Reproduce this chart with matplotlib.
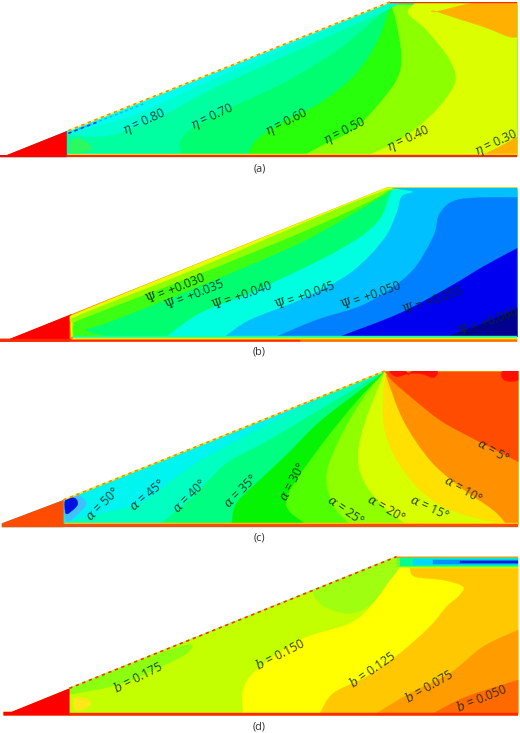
import matplotlib
matplotlib.use("Agg")
import matplotlib.pyplot as plt
from matplotlib.patches import Polygon, PathPatch
from matplotlib.path import Path

plt.rcParams['font.family'] = ['Open Sans', 'DejaVu Sans']
plt.rcParams['mathtext.fontset'] = 'dejavuserif'

W, H = 520, 733
S = 3.0  # reading scale of the boundaries (zoomed pixels)

# ---------- panel (a): eta ----------
a_dom = [(0,472),(0,465),(20,465),(200,393),(1170,6),(1552,6),(1552,472)]
a_wedge = [(0,472),(0,465),(20,465),(200,393),(200,472)]
a_base = '#00ffa0'
a_bands = [
 ('#00ff70', [(545,468),(540,430),(570,390),(700,320),(850,250),(1000,160),(1100,80),(1170,15)]),
 ('#28ff0a', [(745,468),(770,420),(860,360),(960,310),(1060,230),(1130,130),(1172,15)]),
 ('#8cff00', [(910,468),(960,440),(1060,390),(1130,320),(1190,240),(1205,170),(1190,70),(1175,15)]),
 ('#dcff00', [(1100,468),(1200,420),(1300,340),(1365,250),(1350,180),(1280,90),(1225,40),(1245,10)]),
 ('#ffb000', [(1440,468),(1500,440),(1552,410)]),
]
a_patches = [
 ('#00ffd0', [(205,405),(330,405),(480,350),(630,270),(850,170),(1060,75),(1160,30),(1170,8),(205,392)]),
 ('#00ffee', [(230,392),(400,345),(600,255),(800,168),(1040,62),(1130,22),(205,392)]),
 ('#2cf860', [(212,456),(212,425),(235,415),(262,430),(276,445),(250,456)]),
 ('#ffb000', [(1310,35),(1430,8),(1552,8),(1552,110),(1450,80),(1310,35)]),
]
a_stripes = [('#e8ff20', 462, 466, 205), ('#ff2800', 466, 472, 200), ('#ff2800', 3, 8, 1170)]
a_slope = [(205,392),(1170,6)]
a_speck = [(205,400),(430,312)]
a_speck_dark = [(205,400),(290,367)]
a_labels = ['$\\eta$ = 0.80','$\\eta$ = 0.70','$\\eta$ = 0.60','$\\eta$ = 0.50','$\\eta$ = 0.40','$\\eta$ = 0.30']
a_label_pos = [(433,365,25),(637,352,25),(862,368,27),(1035,395,27),(1225,418,25),(1490,428,25)]

# ---------- panel (b): psi ----------
b_dom = [(0,485),(0,476),(30,476),(215,402),(1160,22),(1552,22),(1552,485)]
b_wedge = [(0,485),(0,476),(30,476),(215,402),(208,408),(208,485)]
b_base = '#ff9000'
b_bands = [
 ('#e4ff00', [(214,470),(214,420),(235,398),(1160,22)]),
 ('#90ff00', [(218,470),(218,430),(240,405),(600,262),(1000,92),(1165,28)]),
 ('#3cff14', [(222,470),(222,435),(260,412),(600,282),(900,160),(1100,70),(1170,30)]),
 ('#00ff70', [(330,470),(260,450),(320,430),(560,335),(900,190),(1130,60),(1175,30)]),
 ('#00ffe0', [(500,470),(600,400),(750,340),(1000,220),(1130,130),(1175,30)]),
 ('#00c0ff', [(675,470),(750,420),(900,360),(1050,280),(1150,180),(1190,100),(1205,50),(1240,35),(1175,24)]),
 ('#0080ff', [(830,470),(950,420),(1100,370),(1230,280),(1300,170),(1320,100),(1380,58),(1552,52)]),
 ('#0000f0', [(1020,470),(1200,400),(1350,320),(1450,260),(1552,205)]),
 ('#000090', [(1340,470),(1450,430),(1552,385)]),
]
b_patches = []
b_stripes = [('#00ffe0', 467, 470, 218), ('#40ff60', 470, 473, 218), ('#e0ff00', 473, 477, 218),
             ('#ffa000', 477, 480, 218), ('#ff7000', 480, 485, 900), ('#ff2800', 480, 485, 0, 900),
             ('#ff2800', 476, 480, 0, 214)]
b_slope = []
b_labels = ['$\\Psi$ = +0.030','$\\Psi$ = +0.035','$\\Psi$ = +0.040','$\\Psi$ = +0.045','$\\Psi$ = +0.050','$\\Psi$ = +0.055','$\\Psi$ = +0.060']
b_label_pos = [(527,324,22),(583,345,22),(725,345,20),(915,345,20),(1113,345,20),(1298,360,20),(1465,425,20)]

# ---------- panel (c): alpha ----------
c_dom = [(5,487),(5,475),(190,405),(1155,18),(1555,18),(1555,487)]
c_wedge = [(5,487),(5,475),(190,405),(190,487)]
c_base = '#00f4f0'
c_bands = [
 ('#00ffc0', [(200,470),(330,440),(430,410),(530,335),(630,270),(900,130),(1100,40),(1155,20)]),
 ('#00ff80', [(480,478),(580,395),(680,295),(800,230),(1000,110),(1155,20)]),
 ('#04f404', [(695,478),(710,415),(780,345),(860,270),(960,170),(1090,70),(1155,20)]),
 ('#50ff00', [(920,478),(870,440),(860,400),(900,330),(980,220),(1070,110),(1155,20)]),
 ('#90ff00', [(1050,478),(1000,420),(980,330),(1020,220),(1090,100),(1155,20)]),
 ('#d8ff00', [(1220,478),(1150,425),(1090,345),(1075,265),(1098,165),(1155,20)]),
 ('#ffe000', [(1510,478),(1350,435),(1250,365),(1180,265),(1150,165),(1155,20)]),
 ('#ff9000', [(1520,478),(1480,435),(1380,365),(1290,285),(1210,165),(1158,30)]),
 ('#ff4c00', [(1555,290),(1390,205),(1320,165),(1250,110),(1180,50),(1155,20)]),
]
c_patches = [
 ('#40c0ff', [(195,398),(235,392),(258,415),(240,440),(200,468)]),
 ('#0010e0', [(197,403),(225,400),(232,420),(205,445),(196,440)]),
 ('#ff1000', [(1170,18),(1215,18),(1225,30),(1240,18),(1310,18),(1300,38),(1270,28),(1230,25),(1190,35)]),
 ('#ff1000', [(1510,18),(1555,18),(1555,45),(1520,48),(1505,35)]),
]
c_stripes = [('#ffe000', 474, 478, 195), ('#ff4c00', 478, 487, 190)]
c_slope = [(190,405),(1155,18)]
c_labels = ['$\\alpha$ = 50°','$\\alpha$ = 45°','$\\alpha$ = 40°','$\\alpha$ = 35°','$\\alpha$ = 30°','$\\alpha$ = 25°','$\\alpha$ = 20°','$\\alpha$ = 15°','$\\alpha$ = 10°','$\\alpha$ = 5°']
c_label_pos = [(308,418,45),(442,392,40),(570,392,45),(722,378,45),(880,350,62),(1037,438,-35),(1158,432,-30),(1288,430,-25),(1388,375,-30),(1480,258,-30)]

# ---------- panel (d): b ----------
d_dom = [(10,497),(10,485),(35,485),(208,415),(1190,20),(1555,20),(1555,497)]
d_wedge = [(10,497),(10,485),(35,485),(208,415),(208,497)]
d_base = '#c4ff00'
d_bands = [
 ('#ffff00', [(730,490),(730,420),(770,360),(900,270),(1050,220),(1120,160),(1190,60),(1230,55)]),
 ('#ffc800', [(960,490),(1000,430),(1100,380),(1200,310),(1290,230),(1340,170),(1375,140),(1390,110),(1330,90),(1245,80),(1230,55)]),
 ('#ff9c00', [(1130,490),(1230,430),(1350,370),(1450,290),(1555,240)]),
 ('#ff6a00', [(1300,490),(1400,440),(1555,390)]),
]
d_patches = [
 ('#8cff10', [(210,432),(350,405),(450,365),(560,310),(540,290),(210,415)]),
 ('#a0ff10', [(1190,22),(1195,55),(1170,90),(1110,165),(1040,190),(960,160),(950,100),(1100,40)]),
 ('#ffe818', [(225,480),(222,450),(240,442),(265,450),(272,462),(250,478)]),
]
d_strip = [('#70ff30', 23, 52, 1190), ('#00ff90', 25, 48, 1200), ('#00d8ff', 28, 44, 1240),
           ('#0090ff', 30, 42, 1300), ('#0020d0', 33, 39, 1380)]
d_stripes = [('#ff2800', 489, 497, 208), ('#ff8020', 19, 23, 1190)]
d_slope = [(208,415),(1190,20)]
d_labels = ['$b$ = 0.175','$b$ = 0.150','$b$ = 0.125','$b$ = 0.075','$b$ = 0.050']
d_label_pos = [(415,382,27),(842,312,27),(1117,358,35),(1287,408,30),(1445,445,22)]

captions = ['(a)', '(b)', '(c)', '(d)']
caption_y = [507, 517, 520, 530]
panel_frames = [(0,180),(180,180),(365,180),(550,183)]
wedge_colors = ['#ff0000', '#ff0000', '#ff4c00', '#ff0000']

fig = plt.figure(figsize=(W/100, H/100), dpi=100, facecolor='white')


def curve(pts, closed=False):
    """Catmull-Rom curve through the read points, as Bezier path pieces."""
    n = len(pts)
    verts, codes = [pts[0]], [Path.MOVETO]
    for i in range(n if closed else n - 1):
        if closed:
            p0, p1, p2, p3 = pts[(i-1) % n], pts[i], pts[(i+1) % n], pts[(i+2) % n]
        else:
            p0, p1, p2, p3 = pts[max(i-1, 0)], pts[i], pts[i+1], pts[min(i+2, n-1)]
        c1 = (p1[0] + (p2[0]-p0[0])/6, p1[1] + (p2[1]-p0[1])/6)
        c2 = (p2[0] - (p3[0]-p1[0])/6, p2[1] - (p3[1]-p1[1])/6)
        verts += [c1, c2, p2]
        codes += [Path.CURVE4] * 3
    return verts, codes


def add(ax, verts, codes, color, clip, z=2):
    verts = verts + [verts[0]]
    codes = codes + [Path.CLOSEPOLY]
    p = PathPatch(Path(verts, codes), facecolor=color, edgecolor=color, lw=0.3, zorder=z)
    ax.add_patch(p)
    if clip is not None:
        p.set_clip_path(clip)


def fill(ax, pts, color, clip=None, z=2):
    verts = list(pts)
    codes = [Path.MOVETO] + [Path.LINETO] * (len(pts) - 1)
    add(ax, verts, codes, color, clip, z)


def band(ax, b, color, clip):
    verts, codes = curve(b)
    y0, y1 = b[0][1], b[-1][1]
    verts += [(1700, y1), (1700, y0)]
    codes += [Path.LINETO, Path.LINETO]
    add(ax, verts, codes, color, clip)


def panel(i, dom, wedge, base, bands, patches, stripes, slope, labels, pos, slope_col='#ff8020', under='#d8ff20'):
    top, h = panel_frames[i]
    ax = fig.add_axes([0, 1 - (top + h) / H, 1, h / H])
    ax.set_xlim(0, W * S)
    ax.set_ylim(h * S, 0)
    ax.axis('off')
    ax.patch.set_alpha(0)
    clip = Polygon(dom, closed=True, transform=ax.transData)
    fill(ax, dom, base, clip)
    for col, b in bands:
        band(ax, b, col, clip)
    for col, q in patches:
        verts, codes = curve(q, closed=True)
        add(ax, verts, codes, col, clip)
    fill(ax, wedge, wedge_colors[i], clip, z=3)
    xr = dom[-1][0]
    for s in stripes:
        col, y0, y1, x0 = s[:4]
        x1 = s[4] if len(s) > 4 else xr
        fill(ax, [(x0, y0), (x1, y0), (x1, y1), (x0, y1)], col, clip, z=4)
    if slope:
        xs, ys = zip(*slope)
        ax.plot(xs, ys, color=under, lw=1.1, zorder=4, solid_capstyle='butt')
        ax.plot(xs, ys, color=slope_col, lw=1.2, ls=(0, (2.0, 2.2)), zorder=5)
    for t, (x, y, r) in zip(labels, pos):
        ax.text(x, y, t, rotation=r, rotation_mode='anchor', ha='center', va='center',
                fontsize=8.8, color='#102818', alpha=0.85, zorder=6)
    ax.text(778, caption_y[i], captions[i], ha='center', va='center', fontsize=7.8, color='#303030')
    return ax, clip


axa, clipa = panel(0, a_dom, a_wedge, a_base, a_bands, a_patches, a_stripes, a_slope, a_labels, a_label_pos, under='#f0ff60')
for pts, col, lw in [(a_speck, '#20b0ff', 1.0), (a_speck_dark, '#1040e0', 1.2)]:
    xs, ys = zip(*pts)
    axa.plot(xs, ys, color=col, lw=lw, ls=(0, (2.0, 2.0)), zorder=3.5)
panel(1, b_dom, b_wedge, b_base, b_bands, b_patches, b_stripes, b_slope, b_labels, b_label_pos)
panel(2, c_dom, c_wedge, c_base, c_bands, c_patches, c_stripes, c_slope, c_labels, c_label_pos)
axd, clipd = panel(3, d_dom, d_wedge, d_base, d_bands, d_patches, d_stripes, d_slope, d_labels, d_label_pos, '#ff3010', under='#a0ff30')
for col, y0, y1, x0 in d_strip:
    x1 = 1555
    fill(axd, [(x0, y0), (x1, y0), (x1, y1), (x0, y1)], col, clipd, z=4)

fig.savefig('out.png', dpi=100)
